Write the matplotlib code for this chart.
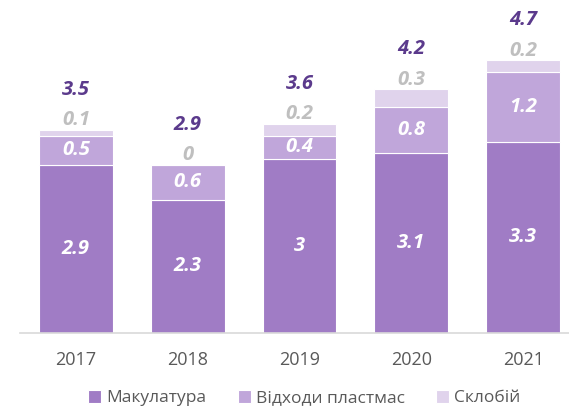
import numpy as np
import matplotlib.pyplot as plt

plt.rcParams['font.family'] = ['Open Sans', 'DejaVu Sans']

# -----------------------------
# Data
# -----------------------------
years = ["2017", "2018", "2019", "2020", "2021"]
paper = [2.9, 2.3, 3.0, 3.1, 3.3]
plastic = [0.5, 0.6, 0.4, 0.8, 1.2]
glass = [0.1, 0.0, 0.2, 0.3, 0.2]
totals = [3.5, 2.9, 3.6, 4.2, 4.7]
paper_labels = ["2.9", "2.3", "3", "3.1", "3.3"]
plastic_labels = ["0.5", "0.6", "0.4", "0.8", "1.2"]
glass_labels = ["0.1", "0", "0.2", "0.3", "0.2"]
total_labels = ["3.5", "2.9", "3.6", "4.2", "4.7"]
series_names = ["Макулатура", "Відходи пластмас", "Склобій"]

c_paper = "#a07cc5"
c_plastic = "#c0a6da"
c_glass = "#e0d3ec"
c_total = "#5b3a8c"
c_gray = "#bfbfbf"

# -----------------------------
# Plot
# -----------------------------
fig = plt.figure(figsize=(5.69, 4.08), dpi=100)
ax = fig.add_axes([20 / 569, 75 / 408, 549 / 569, 319 / 408])

x = np.arange(len(years))
w = 0.66
paper = np.array(paper)
plastic = np.array(plastic)
glass = np.array(glass)

ax.bar(x, paper, w, color=c_paper, edgecolor="white", linewidth=0.8, label=series_names[0])
ax.bar(x, plastic, w, bottom=paper, color=c_plastic, edgecolor="white", linewidth=0.8,
       label=series_names[1])
ax.bar(x, glass, w, bottom=paper + plastic, color=c_glass, edgecolor="white", linewidth=0.8,
       label=series_names[2])

lab_kw = dict(ha="center", va="center", fontsize=14.5, fontweight="bold", fontstyle="italic")
top = paper + plastic + glass
for i in range(len(years)):
    ax.text(x[i], paper[i] / 2, paper_labels[i], color="white", **lab_kw)
    ax.text(x[i], paper[i] + plastic[i] / 2, plastic_labels[i], color="white", **lab_kw)
    ax.annotate(glass_labels[i], (x[i], top[i]), xytext=(0, 7), textcoords="offset points",
                color=c_gray, annotation_clip=False, **lab_kw)
    ax.annotate(total_labels[i], (x[i], top[i]), xytext=(0, 29), textcoords="offset points",
                color=c_total, annotation_clip=False, **lab_kw)

ax.set_xlim(-0.5, 4.41)
ax.set_ylim(0, 5.5)
ax.set_xticks(x)
ax.set_xticklabels(years, fontsize=13, color="#595959")
ax.tick_params(axis="x", length=0, pad=13)
ax.set_yticks([])
for s in ["top", "right", "left"]:
    ax.spines[s].set_visible(False)
ax.spines["bottom"].set_color("#d9d9d9")
ax.spines["bottom"].set_linewidth(1.2)

leg = fig.legend(loc="center", bbox_to_anchor=(0.535, 1 - 398 / 408), ncol=3, frameon=False,
                 fontsize=12.5, handlelength=0.75, handleheight=0.75, columnspacing=1.8,
                 handletextpad=0.3)
for t in leg.get_texts():
    t.set_color("#595959")

fig.savefig("out.png", dpi=100)
